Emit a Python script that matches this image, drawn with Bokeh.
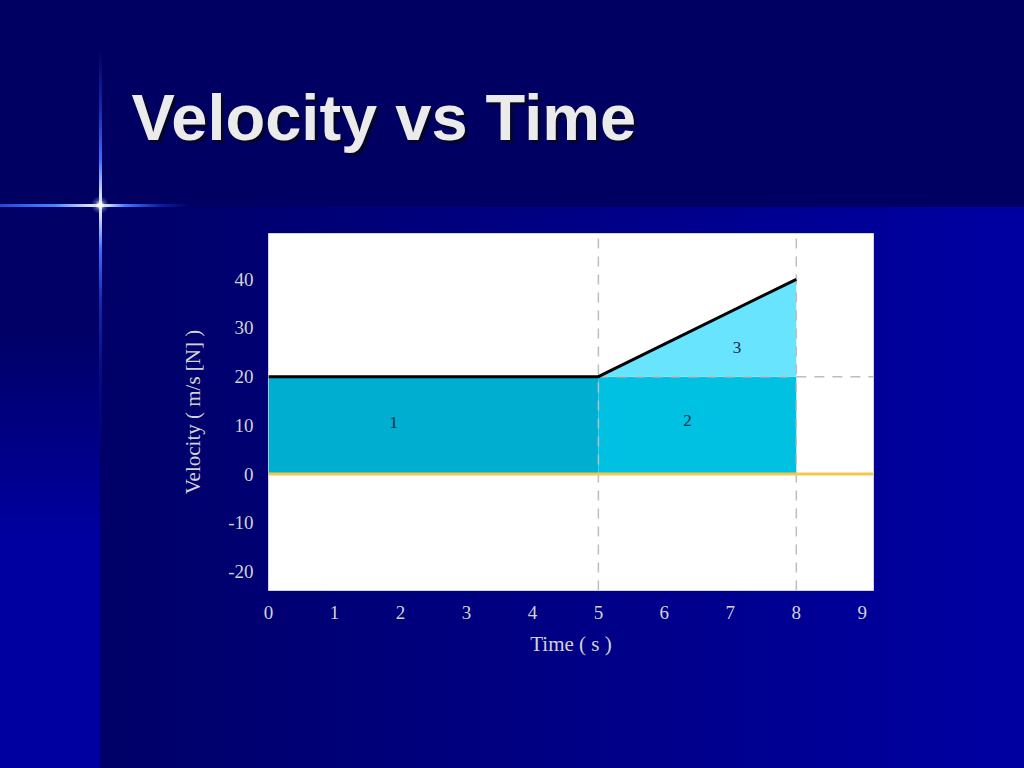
from bokeh.plotting import figure
from bokeh.models import Range1d, Label, FixedTicker, ColumnDataSource
from bokeh.core.properties import value
from bokeh.embed import file_html
from bokeh.resources import INLINE

# ---------------- data ----------------
time_s = [0, 5, 8]
velocity_ms = [20, 20, 40]

block_left = [0, 5]
block_right = [5, 8]
block_bottom = [0, 0]
block_top = [20, 20]
block_colors = ["#00aecf", "#00c1e1"]

wedge_time = [5, 8, 8]
wedge_velocity = [20, 40, 20]

area_names = ["1", "2", "3"]
area_time = [1.9, 6.35, 7.1]
area_velocity = [10.6, 11.0, 26.0]

guide_times = [5, 8]
guide_velocity = 20

x_ticks = [0, 1, 2, 3, 4, 5, 6, 7, 8, 9]
y_ticks = [-20, -10, 0, 10, 20, 30, 40]

x_start, x_end = 0.0, 9.17
y_start, y_end = -23.9, 49.4

title_text = "Velocity vs Time"
x_label = "Time ( s )"
y_label = "Velocity ( m/s [N] )"

# ---------------- layout (pixels) ----------------
W, H = 1024, 768
FL, FR, FT, FB = 268, 873, 233, 590


def data_x(px):
    return x_start + (px - FL) * (x_end - x_start) / (FR - FL)


def data_y(py):
    return y_end - (py - FT) * (y_end - y_start) / (FB - FT)


bg_layers = [
    "radial-gradient(circle at 100px 205px, rgba(255,255,225,1) 0px, rgba(255,255,235,0.85) 2px, rgba(170,195,255,0.35) 5px, rgba(0,0,0,0) 9px)",
    "linear-gradient(to right, rgba(40,80,220,0.9) 0px, rgba(80,130,255,1) 55px, rgba(230,240,255,1) 95px, rgba(255,255,230,1) 100px, rgba(230,240,255,1) 105px, rgba(70,120,255,1) 125px, rgba(20,50,200,0.6) 160px, rgba(0,0,150,0) 190px)",
    "linear-gradient(to bottom, rgba(0,0,0,0) 50px, rgba(30,60,200,0.7) 110px, rgba(60,110,255,1) 160px, rgba(220,235,255,1) 198px, rgba(255,255,230,1) 205px, rgba(220,235,255,1) 212px, rgba(60,110,255,1) 250px, rgba(30,60,200,0.7) 300px, rgba(20,30,170,0.3) 380px, rgba(0,0,0,0) 460px)",
    "linear-gradient(#000062, #000062)",
    "linear-gradient(to bottom, #000066 0px, #000066 330px, #0000a0 540px, #0000a0 768px)",
    "linear-gradient(to right, #000068 0px, #000068 100px, #0000a2 100%)",
]
bg_sizes = ["100% 100%", "100% 3px", "3px 100%", "100% 207px", "100px 100%", "100% 100%"]
bg_pos = ["0 0", "0 204px", "99px 0", "0 0", "0 0", "0 0"]

styles = {
    "position": "absolute",
    "left": "0px",
    "top": "0px",
    "background-image": ", ".join(bg_layers),
    "background-size": ", ".join(bg_sizes),
    "background-position": ", ".join(bg_pos),
    "background-repeat": "no-repeat",
}

p = figure(
    width=W, height=H,
    x_range=Range1d(x_start, x_end), y_range=Range1d(y_start, y_end),
    output_backend="svg", toolbar_location=None,
    min_border_left=FL, min_border_right=W - FR,
    min_border_top=FT, min_border_bottom=H - FB,
    background_fill_color="white", border_fill_color=None,
    outline_line_color="#d4d4d4", styles=styles,
)
p.grid.visible = False

p.xaxis.ticker = FixedTicker(ticks=x_ticks)
p.yaxis.ticker = FixedTicker(ticks=y_ticks)
p.yaxis.major_label_overrides = {t: str(t) for t in y_ticks}
p.axis.axis_line_color = None
p.axis.major_tick_line_color = None
p.axis.minor_tick_line_color = None
p.axis.major_tick_out = 0
p.axis.major_tick_in = 0
p.axis.minor_tick_out = 0
p.axis.major_label_text_font = "Liberation Serif"
p.axis.major_label_text_font_size = "19px"
p.axis.major_label_text_color = "#d2d2d2"
p.xaxis.major_label_standoff = 15
p.yaxis.major_label_standoff = 15
p.xaxis.axis_label = x_label
p.yaxis.axis_label = y_label
p.axis.axis_label_text_font = "Liberation Serif"
p.axis.axis_label_text_font_size = "21px"
p.axis.axis_label_text_font_style = "normal"
p.axis.axis_label_text_color = "#d2d2d2"
p.xaxis.axis_label_standoff = 10
p.yaxis.axis_label_standoff = 20

blocks = ColumnDataSource(dict(left=block_left, right=block_right,
                               bottom=block_bottom, top=block_top, color=block_colors))
p.quad(left="left", right="right", bottom="bottom", top="top",
       fill_color="color", line_color=None, source=blocks)
p.patch(wedge_time, wedge_velocity, fill_color="#68e4ff", line_color=None)

p.segment(x0=guide_times, y0=[y_start] * len(guide_times),
          x1=guide_times, y1=[y_end] * len(guide_times),
          line_color="#bdbdbd", line_width=1.5, line_dash="10 8")
p.segment(x0=[guide_times[0]], y0=[guide_velocity], x1=[x_end], y1=[guide_velocity],
          line_color="#bdbdbd", line_width=1.5, line_dash="10 8")

p.segment(x0=[x_start], y0=[0], x1=[x_end], y1=[0], line_color="#f2c94c", line_width=3)
p.line(time_s, velocity_ms, line_color="black", line_width=3)

p.text(x=area_time, y=area_velocity, text=area_names,
       text_font=value("Liberation Serif"), text_font_size="17px",
       text_color="#1b2b4b", text_align="center", text_baseline="middle")

shadow = Label(x=data_x(131), y=data_y(117), text=title_text,
               text_font="Liberation Sans", text_font_style="bold", text_font_size="65px",
               text_color="#05052a", text_baseline="alphabetic", x_offset=3, y_offset=-3)
title = Label(x=data_x(131), y=data_y(117), text=title_text,
              text_font="Liberation Sans", text_font_style="bold", text_font_size="65px",
              text_color="#ebebeb", text_baseline="alphabetic")
p.add_layout(shadow, "above")
p.add_layout(title, "above")

open("out.html", "w").write(file_html(p, INLINE))
